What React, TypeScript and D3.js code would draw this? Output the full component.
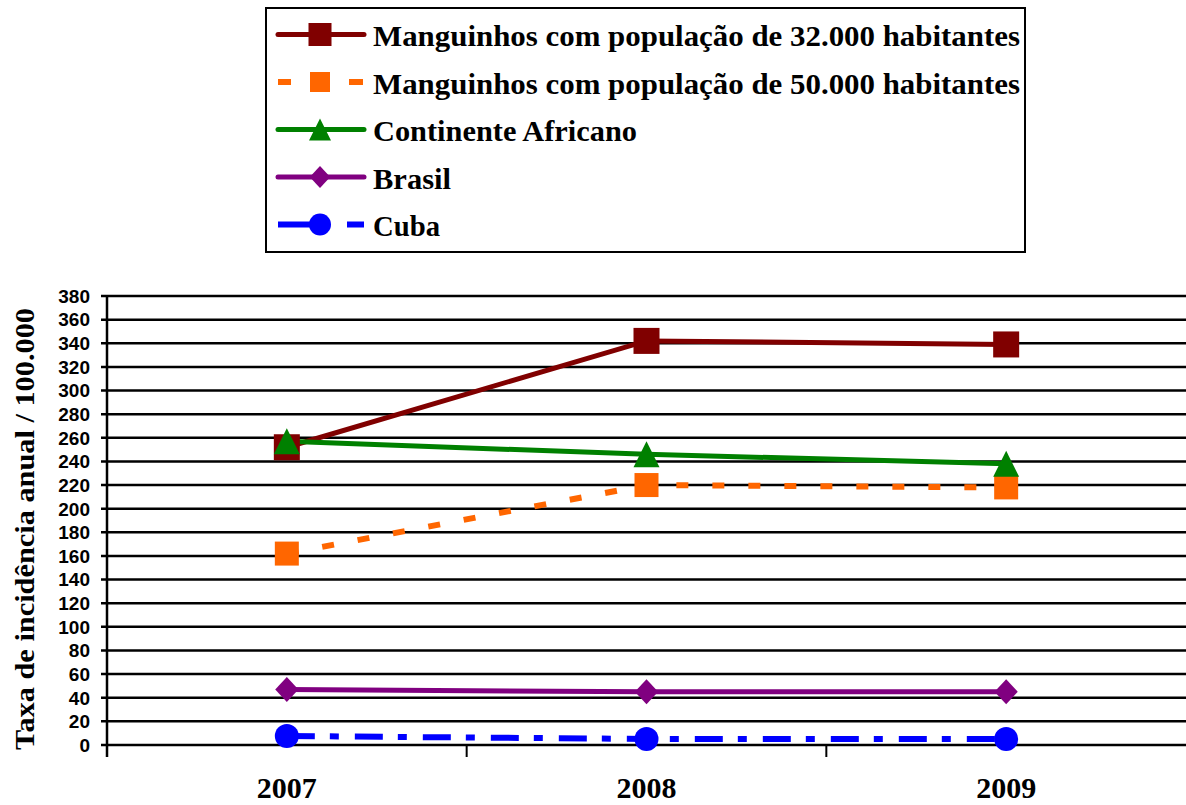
import React from "react";
import * as d3 from "d3";

const years = ["2007", "2008", "2009"];
const yTicks = d3.range(0, 381, 20);

const manguinhos32 = [252, 342, 339];
const manguinhos50 = [162, 220, 218];
const africa = [257, 246, 238];
const brasil = [47, 45, 45];
const cuba = [7.6, 5.1, 5];

type Marker = "square" | "triangle" | "diamond" | "circle";
interface Series {
  name: string;
  values: number[];
  color: string;
  dash: string | null;
  legendDash: string | null;
  marker: Marker;
  markerSize: number;
  legendMarkerSize: number;
  labelWidth: number;
}

const series: Series[] = [
  {
    name: "Manguinhos com população de 32.000 habitantes",
    values: manguinhos32,
    color: "#800000",
    dash: null,
    legendDash: null,
    marker: "square",
    markerSize: 26,
    legendMarkerSize: 23,
    labelWidth: 647,
  },
  {
    name: "Manguinhos com população de 50.000 habitantes",
    values: manguinhos50,
    color: "#FF6600",
    dash: "12 24",
    legendDash: "13 58 14",
    marker: "square",
    markerSize: 24,
    legendMarkerSize: 20,
    labelWidth: 647,
  },
  {
    name: "Continente Africano",
    values: africa,
    color: "#008000",
    dash: null,
    legendDash: null,
    marker: "triangle",
    markerSize: 26,
    legendMarkerSize: 22,
    labelWidth: 264,
  },
  {
    name: "Brasil",
    values: brasil,
    color: "#800080",
    dash: null,
    legendDash: null,
    marker: "diamond",
    markerSize: 25,
    legendMarkerSize: 22,
    labelWidth: 78,
  },
  {
    name: "Cuba",
    values: cuba,
    color: "#0000FF",
    dash: "28 15 9 16",
    legendDash: "32 37 17",
    marker: "circle",
    markerSize: 24,
    legendMarkerSize: 22,
    labelWidth: 67,
  },
];

const W = 1186;
const H = 805;
const plot = { left: 107, right: 1186, top: 296, bottom: 745 };

function MarkerShape({ type, x, y, color, size }: { type: Marker; x: number; y: number; color: string; size: number }) {
  const h = size / 2;
  if (type === "square") return <rect x={x - h} y={y - h} width={size} height={size} fill={color} />;
  if (type === "triangle")
    return <path d={`M${x},${y - h} L${x + h},${y + h} L${x - h},${y + h} Z`} fill={color} />;
  if (type === "diamond")
    return <path d={`M${x},${y - h} L${x + h * 0.93},${y} L${x},${y + h} L${x - h * 0.93},${y} Z`} fill={color} />;
  return <circle cx={x} cy={y} r={h} fill={color} />;
}

export default function App() {
  const x = d3.scaleBand<string>().domain(years).range([plot.left, plot.right]);
  const y = d3.scaleLinear().domain([0, 380]).range([plot.bottom, plot.top]);
  const cx = (yr: string) => (x(yr) as number) + x.bandwidth() / 2;
  const line = d3
    .line<number>()
    .x((_, i) => cx(years[i]))
    .y((v) => y(v));

  const legendRowY = (i: number) => 34.5 + i * 47.5;
  const serif = "Liberation Serif, Times New Roman, serif";

  return (
    <svg width={W} height={H} style={{ position: "absolute", left: 0, top: 0, background: "#fff" }}>
      {/* horizontal gridlines and y tick labels */}
      {yTicks.map((t) => (
        <g key={t}>
          <line x1={plot.left - 6} x2={plot.right} y1={y(t)} y2={y(t)} stroke="#000" strokeWidth={2.5} />
          <text
            x={90}
            y={y(t)}
            dy="0.36em"
            textAnchor="end"
            fontFamily="Liberation Sans, Arial, sans-serif"
            fontWeight="bold"
            fontSize={19}
          >
            {t}
          </text>
        </g>
      ))}
      {/* y axis */}
      <line x1={plot.left} x2={plot.left} y1={plot.top} y2={plot.bottom + 12} stroke="#000" strokeWidth={2.5} />
      {/* category boundary ticks */}
      {years.map((yr) => (
        <line
          key={yr}
          x1={x(yr) as number}
          x2={x(yr) as number}
          y1={plot.bottom}
          y2={plot.bottom + 12}
          stroke="#000"
          strokeWidth={2}
        />
      ))}
      {/* x labels */}
      {years.map((yr) => (
        <text
          key={yr}
          x={cx(yr)}
          y={798}
          textAnchor="middle"
          fontFamily={serif}
          fontWeight="bold"
          fontSize={30}
        >
          {yr}
        </text>
      ))}
      {/* y title */}
      <text
        transform={`translate(34,529) rotate(-90)`}
        textAnchor="middle"
        fontFamily={serif}
        fontWeight="bold"
        fontSize={28}
        textLength={442}
        lengthAdjust="spacingAndGlyphs"
      >
        Taxa de incidência anual / 100.000
      </text>

      {/* series lines */}
      {series.map((s) => (
        <path
          key={s.name + "-line"}
          d={line(s.values) as string}
          fill="none"
          stroke={s.color}
          strokeWidth={s.dash ? 6 : 5}
          strokeDasharray={s.dash ?? undefined}
        />
      ))}
      {/* series markers */}
      {series.map((s) =>
        s.values.map((v, i) => (
          <MarkerShape
            key={s.name + i}
            type={s.marker}
            x={cx(years[i])}
            y={y(v)}
            color={s.color}
            size={s.markerSize}
          />
        ))
      )}

      {/* legend */}
      <rect x={266} y={8} width={759} height={244} fill="#fff" stroke="#000" strokeWidth={2} />
      {series.map((s, i) => (
        <g key={s.name + "-legend"}>
          <line
            x1={278}
            x2={364}
            y1={legendRowY(i)}
            y2={legendRowY(i)}
            stroke={s.color}
            strokeWidth={s.legendDash ? 6 : 5}
            strokeLinecap={s.legendDash ? "butt" : "round"}
            strokeDasharray={s.legendDash ?? undefined}
          />
          <MarkerShape type={s.marker} x={320} y={legendRowY(i)} color={s.color} size={s.legendMarkerSize} />
          <text
            x={373}
            y={legendRowY(i) + 11.5}
            fontFamily={serif}
            fontWeight="bold"
            fontSize={30}
            textLength={s.labelWidth}
            lengthAdjust="spacingAndGlyphs"
          >
            {s.name}
          </text>
        </g>
      ))}
    </svg>
  );
}
